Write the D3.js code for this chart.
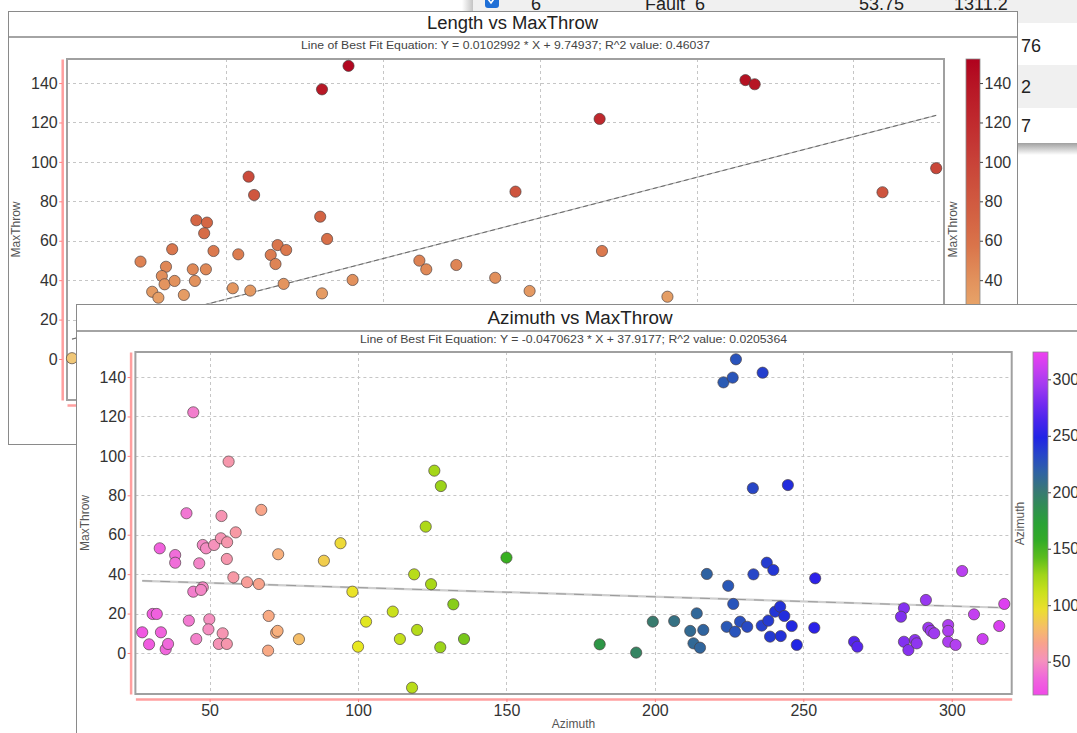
<!DOCTYPE html>
<html><head><meta charset="utf-8">
<script src="https://cdn.jsdelivr.net/npm/d3@7"></script>
<style>
body{margin:0;background:#fff;overflow:hidden}
svg{display:block}
text{font-family:"Liberation Sans",Arial,sans-serif}
</style>
</head><body>
<svg id="c" width="1077" height="733"></svg>
<script>
// ---------------- data ----------------
const lengthVals = [3560,3222,2286,2356,3199,3287,5690,1619,1755,1719,1311,1838,907,1232,1179,1214,1342,1574,1741,1601,2154,2568,2656,2765,2629,2084,2307,2733,3222,3612,4464,4552,4935,5431,5870,1056,1135,1460,8623,8741,6763,11056,10371,6793,7628,33];
const lengthThrow = [148.7,136.8,92.5,83.2,72.2,60.9,84.9,70.4,69.2,63.8,55.7,54.8,49.4,46.8,42.1,37.9,39.6,45.5,45.5,39.6,53.1,52.8,57.8,55.3,48.2,35.9,34.7,38.1,33.3,40.1,49.9,45.5,47.7,41.2,34.5,34.1,31.1,32.5,141.5,139.4,121.8,96.8,84.6,54.8,31.6,0.4];

const azimuthVals = [44.5,56.4,42.2,54.0,67.4,58.8,33.2,38.4,38.4,47.7,48.8,51.5,53.8,55.9,55.8,46.5,58.0,62.6,66.6,47.7,44.5,47.1,30.8,32.2,43.0,49.9,49.6,54.4,45.5,53.1,55.8,27.3,29.6,33.6,35.2,36.0,69.9,72.4,72.9,69.7,73.1,80.1,88.5,94.1,98.1,100.0,102.7,111.7,114.1,118.9,119.9,118.2,122.8,124.6,125.7,127.9,127.7,132.1,135.7,150.0,181.4,193.7,199.3,206.5,211.9,216.3,214.1,213.0,215.2,217.5,223.1,226.2,227.3,236.3,233.0,244.8,224.7,226.4,233.2,237.7,239.9,254.0,224.2,227.0,228.7,231.1,236.0,238.2,240.5,242.2,243.6,238.8,242.4,246.1,247.8,253.7,267.1,268.2,283.9,282.9,291.3,303.5,317.7,307.5,316.0,310.4,292.1,293.0,294.1,298.8,298.8,298.8,301.3,283.9,285.4,287.6,288.2];
const azimuthThrow = [122.1,97.1,70.9,69.5,72.6,61.2,53.1,49.7,45.8,54.8,53.1,54.8,58.2,56.2,47.7,45.5,38.4,35.9,35.0,33.3,31.1,32.0,19.8,19.8,16.4,17.1,12.0,10.0,7.1,4.6,4.6,10.5,4.4,10.5,1.9,4.6,18.8,10.3,11.2,1.2,50.1,7.0,46.8,55.7,31.1,3.2,15.9,21.0,7.1,39.9,11.7,-17.6,64.1,34.9,92.5,84.7,2.9,24.7,7.1,48.4,4.4,0.2,15.9,16.2,11.2,11.7,20.1,4.9,2.7,40.1,137.3,139.7,149.0,142.2,83.6,85.2,34.1,24.9,39.9,45.8,42.1,37.9,13.3,10.8,15.9,13.3,13.9,16.4,21.0,23.5,18.8,8.3,8.6,13.7,4.1,12.8,5.7,3.2,22.7,18.4,26.9,41.6,24.9,19.6,13.7,7.1,12.8,11.2,10.0,14.2,11.2,5.7,4.1,5.7,1.5,6.6,4.9];

const throwTicks = [0,20,40,60,80,100,120,140];
const lengthTicks = [2000,4000,6000,8000,10000];
const azimuthTicks = [50,100,150,200,250,300];
const azimuthBarTicks = [50,100,150,200,250,300];

const fit1 = {slope:0.0102992, intercept:9.74937, r2:"0.46037"};
const fit2 = {slope:-0.0470623, intercept:37.9177, r2:"0.0205364"};

const throwStops = [-21,0,30,45,60,80,100,120,140,153];
const throwColors = ['#f6dc90','#f0c878','#e6a066','#e08a58','#d87048','#d05a40','#c84238','#c02a2e','#b61424','#b0001e'];
const azStops = [20,40,50,65,75,90,100,125,150,175,200,225,250,275,300,325];
const azColors = ['#f048e8','#f070d8','#f590c0','#f8a090','#f8b478','#f0d048','#e8e820','#a8d818','#38b020','#28a038','#3a7a70','#2a58b8','#2020e8','#6a28f0','#b040f0','#f040f0'];

const tableCells = [
  {t:"6", col:0, row:0}, {t:"Fault_6", col:1, row:0}, {t:"53.75", col:2, row:0}, {t:"1311.2", col:3, row:0},
  {t:"76", col:4, row:1}, {t:"2", col:4, row:2}, {t:"7", col:4, row:3}
];

// ---------------- drawing ----------------
const svg = d3.select('#c');
const defs = svg.append('defs');
svg.append('rect').attr('width',1077).attr('height',733).attr('fill','#fff');

const throwColor = d3.scaleLinear().domain(throwStops).range(throwColors).interpolate(d3.interpolateRgb).clamp(true);
const azColor = d3.scaleLinear().domain(azStops).range(azColors).interpolate(d3.interpolateRgb).clamp(true);

// background table window
const bg = svg.append('g');
const rowTop = [-20, 23, 65, 108];
const rowBot = [23, 65, 108, 143];
const colX = [531, 645, 859, 954, 1021];
rowTop.forEach((t,i)=>{
  bg.append('rect').attr('x',471).attr('y',t).attr('width',620).attr('height',rowBot[i]-t)
    .attr('fill', i%2===0 ? '#f0f0f0' : '#ffffff');
});
const sh = defs.append('linearGradient').attr('id','shv').attr('x1',0).attr('y1',0).attr('x2',0).attr('y2',1);
sh.append('stop').attr('offset',0).attr('stop-color','#a0a0a0');
sh.append('stop').attr('offset',1).attr('stop-color','#ffffff');
bg.append('rect').attr('x',471).attr('y',143).attr('width',620).attr('height',12).attr('fill','url(#shv)');
const shh = defs.append('linearGradient').attr('id','shh');
shh.append('stop').attr('offset',0).attr('stop-color','#ffffff');
shh.append('stop').attr('offset',1).attr('stop-color','#c4c4c4');
bg.append('rect').attr('x',462).attr('y',0).attr('width',11).attr('height',155).attr('fill','url(#shh)');
bg.append('rect').attr('x',485).attr('y',-7).attr('width',14).attr('height',15).attr('rx',3).attr('fill','#1f6fd6');
bg.append('path').attr('d','M488,-1 L491,3 L496,-4').attr('stroke','#fff').attr('stroke-width',1.6).attr('fill','none');
bg.selectAll('text.cell').data(tableCells).join('text').attr('class','cell')
  .attr('x',d=>colX[d.col]).attr('y',d=>[9.5,52,93,132][d.row])
  .attr('font-size',18).attr('fill','#222').text(d=>d.t);

function drawChart(cfg){
  const g = svg.append('g');
  const W = cfg.win;
  g.append('rect').attr('x',W.x+0.5).attr('y',W.y+0.5).attr('width',W.w).attr('height',W.h)
    .attr('fill','#fff').attr('stroke','#8a8a8a');
  g.append('line').attr('x1',W.x+1).attr('x2',W.x+W.w).attr('y1',W.sep).attr('y2',W.sep)
    .attr('stroke','#a4a4a4').attr('stroke-width',2);
  g.append('text').attr('x',cfg.titleX).attr('y',cfg.titleY).attr('text-anchor','middle')
    .attr('font-size',18).attr('fill','#222').attr('textLength',cfg.titleW).attr('lengthAdjust','spacingAndGlyphs').text(cfg.title);
  const x = cfg.x, y = cfg.y;
  const [xa,xb] = x.range(), [yb,ya] = y.range();
  g.append('text').attr('x',(xa+xb)/2).attr('y',cfg.subY).attr('text-anchor','middle')
    .attr('font-size',11).attr('fill','#444').attr('textLength',cfg.subW).attr('lengthAdjust','spacingAndGlyphs')
    .text(`Line of Best Fit Equation: Y = ${cfg.fit.slope} * X + ${cfg.fit.intercept}; R^2 value: ${cfg.fit.r2}`);

  // grid
  const grid = g.append('g').attr('stroke','#c6c6c6').attr('stroke-dasharray','3,3').attr('stroke-width',1);
  grid.selectAll('line.h').data(throwTicks).join('line').attr('class','h')
    .attr('x1',xa).attr('x2',xb).attr('y1',d=>Math.round(y(d))+0.5).attr('y2',d=>Math.round(y(d))+0.5);
  grid.selectAll('line.v').data(cfg.xTicks).join('line').attr('class','v')
    .attr('y1',ya).attr('y2',yb).attr('x1',d=>Math.round(x(d))+0.5).attr('x2',d=>Math.round(x(d))+0.5);
  g.append('rect').attr('x',xa).attr('y',ya).attr('width',xb-xa).attr('height',yb-ya)
    .attr('fill','none').attr('stroke','#a0a0a0').attr('stroke-width',2);

  // axes
  const ay = g.append('g').attr('transform',`translate(${xa-4.8},0)`)
    .call(d3.axisLeft(y).tickValues(throwTicks).tickSize(3).tickPadding(1.5).tickSizeOuter(0));
  const ax = g.append('g').attr('transform',`translate(0,${yb+5})`)
    .call(d3.axisBottom(x).tickValues(cfg.xTicks).tickSize(3).tickPadding(3).tickSizeOuter(0).tickFormat(d3.format('d')));
  [ay,ax].forEach(a=>{
    a.select('.domain').attr('stroke','#ff9f9f').attr('stroke-width',2.5);
    a.selectAll('.tick line').attr('stroke','#ff8080');
    a.selectAll('.tick text').attr('font-size',16).attr('fill','#333').attr('font-family','"Liberation Sans",Arial,sans-serif');
  });
  g.append('text').attr('transform',`translate(${cfg.yLabX},${(ya+yb)/2}) rotate(-90)`)
    .attr('text-anchor','middle').attr('font-size',12).attr('fill','#555').text('MaxThrow');
  g.append('text').attr('x',(xa+xb)/2).attr('y',yb+34).attr('text-anchor','middle')
    .attr('font-size',12).attr('fill','#555').text(cfg.xLabel);

  // regression line
  const ext = d3.extent(cfg.xs);
  const fy = v => cfg.fit.slope*v + cfg.fit.intercept;
  g.append('line').attr('x1',x(ext[0])).attr('x2',x(ext[1])).attr('y1',y(fy(ext[0]))).attr('y2',y(fy(ext[1])))
    .attr('stroke',cfg.lineBase).attr('stroke-width',cfg.lineBaseW);
  g.append('line').attr('x1',x(ext[0])).attr('x2',x(ext[1])).attr('y1',y(fy(ext[0]))).attr('y2',y(fy(ext[1])))
    .attr('stroke',cfg.lineDash).attr('stroke-width',1).attr('stroke-dasharray',cfg.dash);

  // points
  const pts = cfg.xs.map((v,i)=>({x:v, y:cfg.ys[i]}));
  g.append('g').selectAll('circle').data(pts).join('circle')
    .attr('cx',d=>x(d.x)).attr('cy',d=>y(d.y)).attr('r',5.6)
    .attr('fill',d=>cfg.color(cfg.colorBy(d)))
    .attr('stroke','#4a4040').attr('stroke-opacity',0.75).attr('stroke-width',0.9);

  // colour bar
  const cb = cfg.bar;
  const gid = 'grad'+cfg.id;
  const gr = defs.append('linearGradient').attr('id',gid).attr('x1',0).attr('y1',1).attr('x2',0).attr('y2',0);
  const [d0,d1] = cb.scale.domain();
  d3.range(0,1.0001,0.05).forEach(t=>{
    gr.append('stop').attr('offset',t).attr('stop-color',cfg.color(d0+(d1-d0)*t));
  });
  const [cyb,cya] = cb.scale.range();
  g.append('rect').attr('x',cb.x).attr('y',cya).attr('width',cb.w).attr('height',cyb-cya)
    .attr('fill',`url(#${gid})`).attr('stroke','#8a8a8a').attr('stroke-width',0.8);
  const ac = g.append('g').attr('transform',`translate(${cb.x+cb.w},0)`)
    .call(d3.axisRight(cb.scale).tickValues(cb.ticks).tickSize(3).tickPadding(1.5).tickSizeOuter(0));
  ac.select('.domain').remove();
  ac.selectAll('.tick line').attr('stroke','#444');
  ac.selectAll('.tick text').attr('font-size',16).attr('fill','#333').attr('font-family','"Liberation Sans",Arial,sans-serif');
  g.append('text').attr('transform',`translate(${cb.labX},${(cya+cyb)/2}) rotate(-90)`)
    .attr('text-anchor','middle').attr('font-size',12).attr('fill','#555').text(cb.label);
  return g;
}

const y1 = d3.scaleLinear().domain([-20.8,152.2]).range([400,59]);
drawChart({
  id:1,
  win:{x:8,y:11,w:1009,h:433,sep:37},
  title:'Length vs MaxThrow', titleX:512.5, titleY:29, titleW:171,
  subY:49, subW:409,
  x:d3.scaleLinear().domain([-30.6,11155.6]).range([67,944]),
  y:y1,
  xTicks:lengthTicks, xLabel:'Length',
  xs:lengthVals, ys:lengthThrow, fit:fit1,
  color:throwColor, colorBy:d=>d.y,
  lineBase:'#b8b8b8', lineBaseW:1.2, lineDash:'#6a6a6a', dash:'5,3',
  yLabX:20,
  bar:{x:966, w:14, scale:d3.scaleLinear().domain([-20.8,152.2]).range([400,59]), ticks:throwTicks, label:'MaxThrow', labX:957}
});

drawChart({
  id:2,
  win:{x:76,y:304,w:1008,h:440,sep:331},
  title:'Azimuth vs MaxThrow', titleX:580, titleY:324, titleW:185,
  subY:343, subW:427,
  x:d3.scaleLinear().domain([25,320.2]).range([135.4,1011.7]),
  y:d3.scaleLinear().domain([-20.8,152.7]).range([694,352]),
  xTicks:azimuthTicks, xLabel:'Azimuth',
  xs:azimuthVals, ys:azimuthThrow, fit:fit2,
  color:azColor, colorBy:d=>d.x,
  lineBase:'#cfcfcf', lineBaseW:2.2, lineDash:'#9a9a9a', dash:'10,8',
  yLabX:89,
  bar:{x:1033, w:15, scale:d3.scaleLinear().domain([20.5,324.2]).range([695,352]), ticks:azimuthBarTicks, label:'Azimuth', labX:1024}
});
</script>
</body></html>
